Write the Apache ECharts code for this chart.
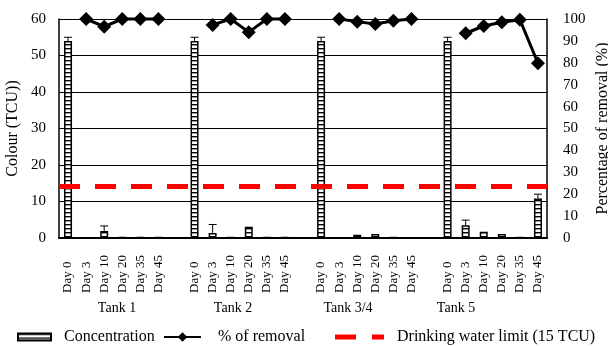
<!DOCTYPE html>
<html>
<head>
<meta charset="utf-8">
<script src="https://cdn.jsdelivr.net/npm/echarts@6/dist/echarts.min.js"></script>
<style>html,body{margin:0;padding:0;background:#fff}#c{width:608px;height:346px}</style>
</head>
<body>
<div id="c"></div>
<script>
// ---- data ----
const days = ['Day 0', 'Day 3', 'Day 10', 'Day 20', 'Day 35', 'Day 45'];
const tanks = ['Tank 1', 'Tank 2', 'Tank 3/4', 'Tank 5'];
// colour concentration (TCU)
const concTank1 = [54, 0, 1.9, 0.25, 0.25, 0.25];
const concTank2 = [54, 1.4, 0.25, 3.1, 0.25, 0.25];
const concTank34 = [54, 0, 0.9, 1.1, 0.25, 0];
const concTank5 = [54, 3.5, 1.7, 1.1, 0.25, 10.8];
// upper ends of error bars (TCU), null = none visible
const errTank1 = [55, null, 3.3, null, null, null];
const errTank2 = [55, 3.7, null, null, null, null];
const errTank34 = [55, null, null, null, null, null];
const errTank5 = [55, 4.9, null, null, null, 12];
// percentage of removal (%)
const remTank1 = [null, 100, 96.5, 100, 100, 100];
const remTank2 = [null, 97.3, 100, 94, 100, 100];
const remTank34 = [null, 100, 98.8, 97.7, 99.2, 100];
const remTank5 = [null, 93.5, 96.8, 98.5, 99.7, 79.8];
// drinking water limit line (as drawn)
const limitValue = 14.3;
const leftAxis = {min: 0, max: 60, interval: 10};
const rightAxis = {min: 0, max: 100, interval: 10};

// ---- build ----
const concAll = [concTank1, concTank2, concTank34, concTank5];
const errAll = [errTank1, errTank2, errTank34, errTank5];
const remAll = [remTank1, remTank2, remTank34, remTank5];
const categories = [], concData = [], remData = [], errData = [];
tanks.forEach((t, ti) => {
  days.forEach((d, di) => {
    const idx = categories.length;
    categories.push(d);
    concData.push(concAll[ti][di]);
    remData.push(remAll[ti][di]);
    if (errAll[ti][di] != null) errData.push([idx, concAll[ti][di], errAll[ti][di]]);
  });
  if (ti < tanks.length - 1) {
    categories.push('');
    concData.push('-');
    remData.push(null);
  }
});

const cv = document.createElement('canvas');
cv.width = 8; cv.height = 4;
const cx = cv.getContext('2d');
cx.fillStyle = '#fff'; cx.fillRect(0, 0, 8, 4);
cx.fillStyle = '#000'; cx.fillRect(0, 0, 8, 1.4);

const FONT = '"Liberation Serif", "Times New Roman", serif';
const chart = echarts.init(document.getElementById('c'));
const tankLabelX = [117, 233, 348, 456];

chart.setOption({
  animation: false,
  backgroundColor: '#fff',
  textStyle: {fontFamily: FONT, color: '#000'},
  grid: {left: 59, right: 61, top: 19, bottom: 108, containLabel: false, outerBoundsMode: 'none'},
  legend: [
    {data: ['Concentration'], left: 12, top: 324, itemWidth: 33, itemHeight: 7, icon: 'rect',
     textStyle: {fontFamily: FONT, fontSize: 16, color: '#000', padding: [0, 0, 0, 8]}},
    {data: ['% of removal'], left: 158, top: 324, itemWidth: 37, itemHeight: 12,
     textStyle: {fontFamily: FONT, fontSize: 16, color: '#000', padding: [0, 0, 0, 12]}},
    {data: ['Drinking water limit (15 TCU)'], left: 330, top: 324, itemWidth: 49, itemHeight: 5,
     icon: 'path://M0,0H21V5H0Z M37,0H49V5H37Z',
     textStyle: {fontFamily: FONT, fontSize: 16, color: '#000', padding: [0, 0, 0, 8]}}
  ],
  xAxis: {
    type: 'category', data: categories, boundaryGap: true,
    axisLine: {lineStyle: {color: '#000', width: 2}},
    axisTick: {show: false},
    axisLabel: {rotate: 90, align: 'left', verticalAlign: 'middle', margin: 55, interval: 0,
      fontFamily: FONT, fontSize: 13, color: '#000'}
  },
  yAxis: [
    {type: 'value', min: leftAxis.min, max: leftAxis.max, interval: leftAxis.interval,
     name: 'Colour (TCU))', nameLocation: 'middle', nameGap: 38, nameRotate: 90, nameMoveOverlap: false,
     nameTextStyle: {fontFamily: FONT, fontSize: 16, color: '#000'},
     axisLine: {show: true, lineStyle: {color: '#000', width: 1.5}},
     axisTick: {show: false},
     axisLabel: {fontFamily: FONT, fontSize: 15, color: '#000', margin: 13},
     splitLine: {show: true, lineStyle: {color: '#000', width: 1}}},
    {type: 'value', min: rightAxis.min, max: rightAxis.max, interval: rightAxis.interval, position: 'right',
     name: 'Percentage of removal (%)', nameLocation: 'middle', nameGap: 48, nameRotate: 90, nameMoveOverlap: false,
     nameTextStyle: {fontFamily: FONT, fontSize: 16, color: '#000'},
     axisLine: {show: true, lineStyle: {color: '#000', width: 1.5}},
     axisTick: {show: false},
     axisLabel: {fontFamily: FONT, fontSize: 15, color: '#000', margin: 16},
     splitLine: {show: false}}
  ],
  graphic: tanks.map((t, i) => ({
    type: 'text', x: tankLabelX[i], y: 308,
    style: {text: t, textAlign: 'center', textVerticalAlign: 'middle',
      font: '14px ' + FONT, fill: '#000'}
  })),
  series: [
    {name: 'Concentration', type: 'bar', data: concData, barWidth: 8, yAxisIndex: 0,
     itemStyle: {color: {image: cv, repeat: 'repeat'}, borderColor: '#000', borderWidth: 1.5}, z: 2},
    {name: 'errorbars', type: 'custom', data: errData, yAxisIndex: 0, z: 3,
     encode: {x: 0, y: [1, 2]},
     renderItem: function (params, api) {
       const top = api.coord([api.value(0), api.value(2)]);
       const base = api.coord([api.value(0), api.value(1)]);
       return {type: 'group', children: [
         {type: 'line', shape: {x1: top[0], y1: base[1], x2: top[0], y2: top[1]}, style: {stroke: '#000', lineWidth: 1}},
         {type: 'line', shape: {x1: top[0] - 4, y1: top[1], x2: top[0] + 4, y2: top[1]}, style: {stroke: '#000', lineWidth: 1}}
       ]};
     }},
    {name: 'Drinking water limit (15 TCU)', type: 'line', data: categories.map(() => null), yAxisIndex: 0,
     itemStyle: {color: '#ff0000'}, lineStyle: {color: '#ff0000'}, symbol: 'none', z: 4,
     markLine: {silent: true, symbol: 'none', label: {show: false},
       lineStyle: {color: '#ff0000', width: 5, type: [21, 15]},
       data: [{yAxis: limitValue}]}},
    {name: '% of removal', type: 'line', data: remData, yAxisIndex: 1, connectNulls: false, clip: false,
     symbol: 'diamond', symbolSize: 14, z: 5,
     itemStyle: {color: '#000'}, lineStyle: {color: '#000', width: 3}}
  ]
});
</script>
</body>
</html>
